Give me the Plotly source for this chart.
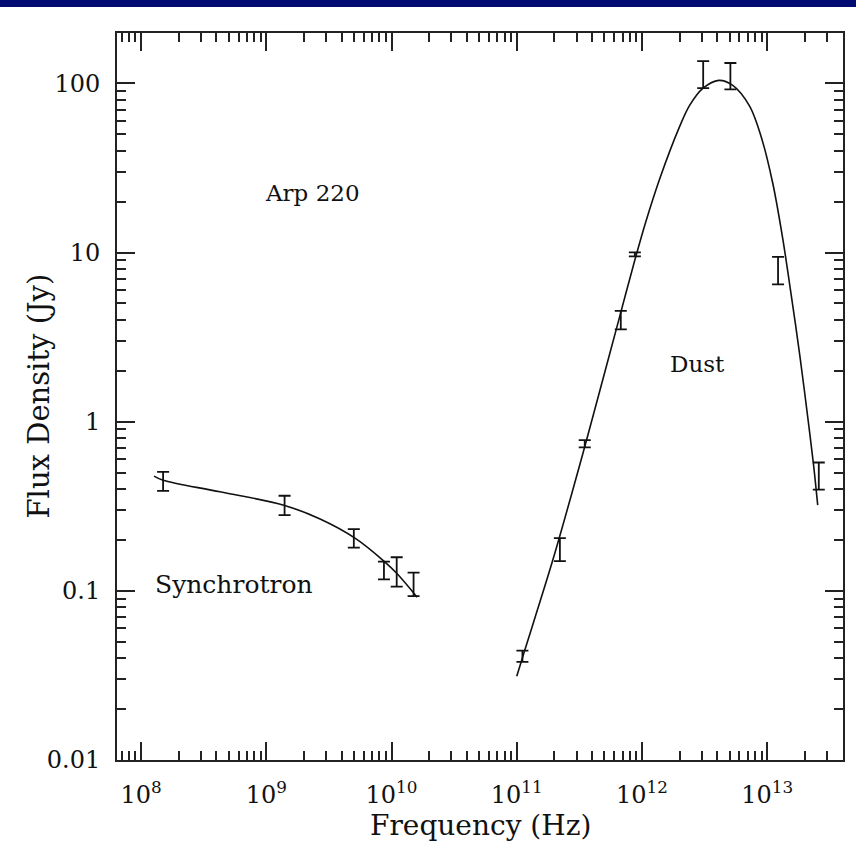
import plotly.graph_objects as go

# ---- data ----
sync_freq = [1.5e8, 1.4e9, 5.0e9, 8.7e9, 1.1e10, 1.5e10]
sync_flux = [0.445, 0.321, 0.205, 0.133, 0.129, 0.110]
sync_err_hi = [0.060, 0.044, 0.027, 0.016, 0.029, 0.018]
sync_err_lo = [0.055, 0.041, 0.025, 0.016, 0.023, 0.017]

dust_freq = [1.11e11, 2.21e11, 3.49e11, 6.77e11, 8.77e11, 3.08e12, 5.08e12, 1.22e13, 2.58e13]
dust_flux = [0.041, 0.175, 0.741, 3.98, 9.77, 113, 110, 7.85, 0.477]
dust_err_hi = [0.0033, 0.030, 0.037, 0.54, 0.26, 22.5, 22.0, 1.57, 0.097]
dust_err_lo = [0.0030, 0.025, 0.035, 0.47, 0.27, 19.2, 17.7, 1.36, 0.080]

sync_model_freq = [1.27e8, 1.5e8, 4.27e8, 1.38e9, 2.69e9, 5.11e9, 8.69e9, 1.10e10, 1.60e10]
sync_model_flux = [0.477, 0.451, 0.385, 0.321, 0.266, 0.205, 0.150, 0.127, 0.0918]

dust_model_freq = [1.00e11, 1.16e11, 1.94e11, 3.31e11, 4.61e11, 6.65e11, 8.76e11, 1.07e12,
                   1.39e12, 2.00e12, 2.40e12, 3.06e12, 4.10e12, 5.31e12, 7.25e12, 9.03e12,
                   1.107e13, 1.33e13, 1.51e13, 1.82e13, 2.18e13, 2.35e13, 2.53e13]
dust_model_flux = [0.0313, 0.0447, 0.152, 0.617, 1.53, 4.21, 9.00, 15.1,
                   27.5, 55.7, 74.1, 93.4, 104.2, 97.3, 73.1, 47.3,
                   25.7, 12.1, 6.49, 2.47, 0.867, 0.546, 0.321]

x_tick_vals = [1e8, 1e9, 1e10, 1e11, 1e12, 1e13]
x_tick_text = ["10<sup>8</sup>", "10<sup>9</sup>", "10<sup>10</sup>",
               "10<sup>11</sup>", "10<sup>12</sup>", "10<sup>13</sup>"]
y_tick_vals = [0.01, 0.1, 1, 10, 100]
y_tick_text = ["0.01", "0.1", "1", "10", "100"]

FONT = "DejaVu Serif"
INK = "#111111"

x_minor = [m * 10 ** e for e in range(7, 14) for m in range(2, 10)]
y_minor = [m * 10.0 ** e for e in range(-2, 3) for m in range(2, 10)]

fig = go.Figure()

fig.add_trace(go.Scatter(x=sync_model_freq, y=sync_model_flux, mode="lines",
                         line=dict(color=INK, width=1.6, shape="spline", smoothing=1.0),
                         hoverinfo="skip", showlegend=False))
fig.add_trace(go.Scatter(x=dust_model_freq, y=dust_model_flux, mode="lines",
                         line=dict(color=INK, width=1.6, shape="spline", smoothing=0.9),
                         hoverinfo="skip", showlegend=False))

for fx, fy, hi, lo in [(sync_freq, sync_flux, sync_err_hi, sync_err_lo),
                       (dust_freq, dust_flux, dust_err_hi, dust_err_lo)]:
    fig.add_trace(go.Scatter(
        x=fx, y=fy, mode="markers",
        marker=dict(size=1, color="rgba(0,0,0,0)"),
        error_y=dict(type="data", symmetric=False, array=hi, arrayminus=lo,
                     color=INK, thickness=1.8, width=6),
        showlegend=False))

axis_common = dict(
    type="log", showgrid=False, zeroline=False,
    showline=True, linecolor="#222222", linewidth=2, mirror="allticks",
    ticks="inside", ticklen=18, tickwidth=1.8, tickcolor="#222222",
    tickfont=dict(family=FONT, size=24, color=INK),
)

fig.update_xaxes(**axis_common, range=[7.808, 13.605], tickmode="array",
                 tickvals=x_tick_vals, ticktext=x_tick_text, ticklabelstandoff=12,
                 minor=dict(tickmode="array", tickvals=x_minor, ticks="inside",
                            ticklen=9, tickwidth=1.6, tickcolor="#222222"))
fig.update_yaxes(**axis_common, range=[-2, 2.298], tickmode="array",
                 tickvals=y_tick_vals, ticktext=y_tick_text, ticklabelstandoff=10,
                 minor=dict(tickmode="array", tickvals=y_minor, ticks="inside",
                            ticklen=9, tickwidth=1.6, tickcolor="#222222"))

ann_font = dict(family=FONT, size=23, color=INK)
fig.update_layout(
    width=856, height=844,
    margin=dict(l=117, r=13, t=33, b=84),
    paper_bgcolor="white", plot_bgcolor="white",
    annotations=[
        dict(text="Arp 220", xref="paper", yref="paper", x=0.2686, y=0.7794,
             showarrow=False, font=ann_font, xanchor="center", yanchor="middle"),
        dict(text="Synchrotron", xref="paper", yref="paper", x=0.1612, y=0.2419,
             showarrow=False, font=dict(family=FONT, size=25, color=INK),
             xanchor="center", yanchor="middle"),
        dict(text="Dust", xref="paper", yref="paper", x=0.7989, y=0.5443,
             showarrow=False, font=ann_font, xanchor="center", yanchor="middle"),
        dict(text="Frequency (Hz)", xref="paper", yref="paper", x=0.5, y=-0.0907,
             showarrow=False, font=dict(family=FONT, size=28, color=INK),
             xanchor="center", yanchor="middle"),
        dict(text="Flux Density (Jy)", xref="paper", yref="paper", x=-0.1088, y=0.5,
             showarrow=False, textangle=-90, font=dict(family=FONT, size=29, color=INK),
             xanchor="center", yanchor="middle"),
    ],
    shapes=[dict(type="rect", xref="paper", yref="paper",
                 x0=-0.17, x1=1.03, y0=1.0358, y1=1.06,
                 fillcolor="#020b72", line=dict(width=0), layer="above")],
)

fig.write_html("out.html")
